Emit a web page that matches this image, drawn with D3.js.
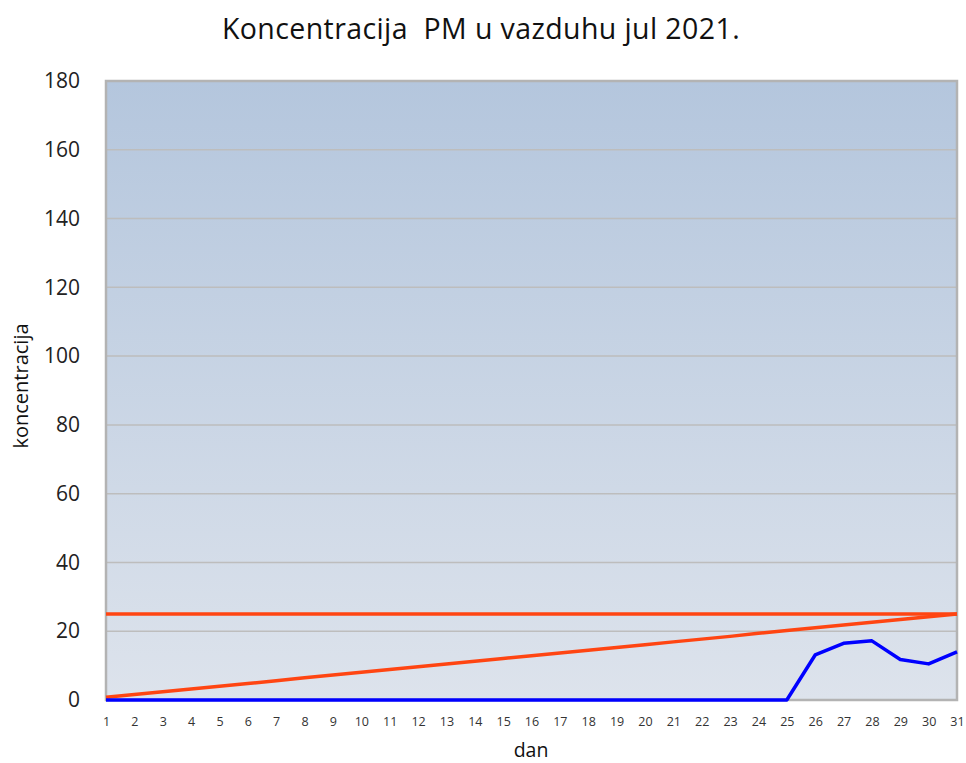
<!DOCTYPE html>
<html><head><meta charset="utf-8">
<script src="https://cdn.jsdelivr.net/npm/d3@7"></script>
<style>body{margin:0;background:#fff;}</style>
</head><body>
<svg id="c" width="966" height="763"></svg>
<script>
const days = d3.range(1, 32);
const pm = [0,0,0,0,0,0,0,0,0,0,0,0,0,0,0,0,0,0,0,0,0,0,0,0,0,13.1,16.5,17.2,11.8,10.5,14.0];
const limit = [25,25,25,25,25,25,25,25,25,25,25,25,25,25,25,25,25,25,25,25,25,25,25,25,25,25,25,25,25,25,25];
const trend = [0.8,1.6,2.4,3.2,4.0,4.8,5.6,6.5,7.3,8.1,8.9,9.7,10.5,11.3,12.1,12.9,13.7,14.5,15.3,16.1,16.9,17.7,18.5,19.4,20.2,21.0,21.8,22.6,23.4,24.2,25.0];
const yTicks = [0,20,40,60,80,100,120,140,160,180];
const title = "Koncentracija\u00a0 PM u vazduhu jul 2021.";

const svg = d3.select("#c");
const L = 106, R = 957, T = 81, B = 700;
const x = d3.scaleLinear().domain([1, 31]).range([L, R]);
const y = d3.scaleLinear().domain([0, 180]).range([B, T]);

const defs = svg.append("defs");
const g = defs.append("linearGradient").attr("id","bg").attr("x1",0).attr("y1",0).attr("x2",0).attr("y2",1);
g.append("stop").attr("offset","0%").attr("stop-color","#b4c6dd");
g.append("stop").attr("offset","100%").attr("stop-color","#dde3ec");

svg.append("rect").attr("x",L).attr("y",T).attr("width",R-L).attr("height",B-T).attr("fill","url(#bg)");

svg.append("g").selectAll("line").data(yTicks.filter(d=>d>0 && d<180)).join("line")
  .attr("x1",L).attr("x2",R).attr("y1",d=>y(d)).attr("y2",d=>y(d))
  .attr("stroke","#bdbdbd").attr("stroke-width",1.5);

svg.append("rect").attr("x",L).attr("y",T).attr("width",R-L).attr("height",B-T)
  .attr("fill","none").attr("stroke","#b3b3b3").attr("stroke-width",2.5);

const yAxis = svg.append("g").attr("transform",`translate(${L},0)`)
  .call(d3.axisLeft(y).tickValues(yTicks).tickSize(0).tickPadding(26));
yAxis.select(".domain").remove();
yAxis.selectAll("text").attr("font-family","'Open Sans', sans-serif").attr("font-size",21).attr("fill","#222");

const xAxis = svg.append("g").attr("transform",`translate(0,${B})`)
  .call(d3.axisBottom(x).tickValues(days).tickFormat(d3.format("d")).tickSize(0).tickPadding(17));
xAxis.select(".domain").remove();
xAxis.selectAll("text").attr("font-family","'Open Sans', sans-serif").attr("font-size",12.5).attr("fill","#333");

const line = d3.line().x((d,i)=>x(days[i])).y(d=>y(d));
svg.append("path").datum(limit).attr("d",line).attr("fill","none").attr("stroke","#ff4512").attr("stroke-width",3.5);
svg.append("path").datum(trend).attr("d",line).attr("fill","none").attr("stroke","#ff4512").attr("stroke-width",3.5);
svg.append("path").datum(pm).attr("d",line).attr("fill","none").attr("stroke","#0000ff").attr("stroke-width",3.5).attr("stroke-linejoin","round");

svg.append("text").attr("x",481).attr("y",39).attr("text-anchor","middle")
  .attr("font-family","'Open Sans', sans-serif").attr("font-size",28.5).attr("letter-spacing",0.4).attr("fill","#111").text(title);
svg.append("text").attr("x",531).attr("y",757).attr("text-anchor","middle")
  .attr("font-family","'Open Sans', sans-serif").attr("font-size",19.5).attr("fill","#111").text("dan");
svg.append("text").attr("transform","translate(28,386) rotate(-90)").attr("text-anchor","middle")
  .attr("font-family","'Open Sans', sans-serif").attr("font-size",20).attr("fill","#111").text("koncentracija");
</script>
</body></html>
